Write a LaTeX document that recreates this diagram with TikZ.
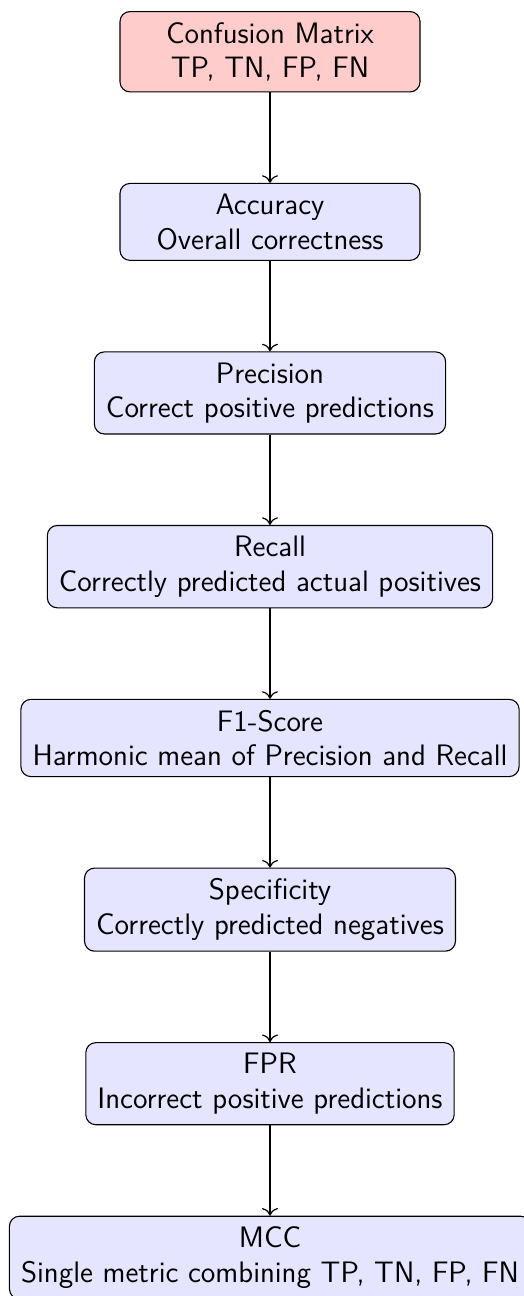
\documentclass[tikz,border=0pt]{standalone}
\usetikzlibrary{positioning,arrows.meta}
\begin{document}
\begin{tikzpicture}[
  metric/.style={draw=black, line width=0.55pt, rounded corners=5pt, fill=blue!10,
    align=center, font=\fontsize{14.8}{17.3}\selectfont\sffamily,
    inner xsep=5.8pt, inner ysep=5.3pt, minimum width=150pt},
  source/.style={metric, fill=red!20},
  link/.style={-{To[scale=1.3]}, line width=0.6pt},
  node distance=45.2pt
]
\useasboundingbox (0,0) rectangle (262pt,-648pt);
\node[source, anchor=north] (cm) at (135pt,-5.5pt) {Confusion Matrix\\TP, TN, FP, FN};
\node[metric, below=of cm] (acc) {Accuracy\\Overall correctness};
\node[metric, below=of acc] (prec) {Precision\\Correct positive predictions};
\node[metric, below=of prec] (rec) {Recall\\Correctly predicted actual positives};
\node[metric, below=of rec] (f1) {F1-Score\\Harmonic mean of Precision and Recall};
\node[metric, below=of f1] (spec) {Specificity\\Correctly predicted negatives};
\node[metric, below=of spec] (fpr) {FPR\\Incorrect positive predictions};
\node[metric, below=of fpr] (mcc) {MCC\\Single metric combining TP, TN, FP, FN};
\draw[link] (cm) -- (acc);
\draw[link] (acc) -- (prec);
\draw[link] (prec) -- (rec);
\draw[link] (rec) -- (f1);
\draw[link] (f1) -- (spec);
\draw[link] (spec) -- (fpr);
\draw[link] (fpr) -- (mcc);
\end{tikzpicture}
\end{document}
